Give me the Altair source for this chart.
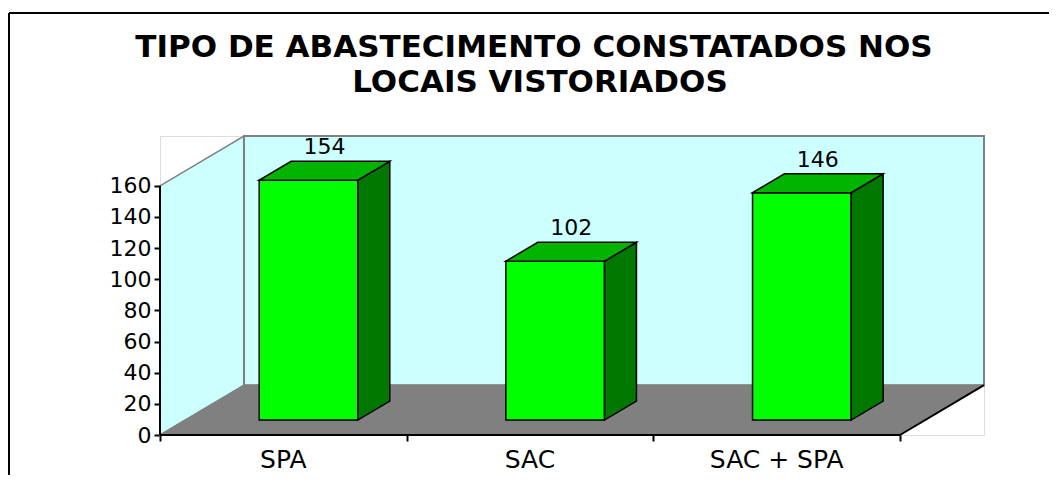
import altair as alt
import pandas as pd

# ---- data ----
categories = ["SPA", "SAC", "SAC + SPA"]
values = [154, 102, 146]
y_ticks = [0, 20, 40, 60, 80, 100, 120, 140, 160]
y_max = 160
title_lines = ["TIPO DE ABASTECIMENTO CONSTATADOS NOS", "LOCAIS VISTORIADOS"]

# ---- 3-D styling constants (in scale units) ----
DX = 0.3405          # depth of the box, in category units
DY = 32.0            # depth of the box, in value units
Z0, Z1 = 0.30, 0.68  # depth range occupied by the bars
BAR_L, BAR_W = 0.30, 0.40
n = len(categories)

FONT = "DejaVu Sans"

# ---- build geometry tables from the data ----
front_rows, side_rows, top_rows, label_rows = [], [], [], []
for i, (c, v) in enumerate(zip(categories, values)):
    x0 = i + BAR_L + Z0 * DX
    x1 = x0 + BAR_W
    b0, t0 = Z0 * DY, v + Z0 * DY
    b1, t1 = Z1 * DY, v + Z1 * DY
    ddx = (Z1 - Z0) * DX
    front_rows.append(dict(cat=c, x=x0, x2=x1, y=b0, y2=t0))
    side_rows += [dict(cat=c, x=x1, lo=b0, hi=t0),
                  dict(cat=c, x=x1 + ddx, lo=b1, hi=t1)]
    top_rows += [dict(cat=c, x=x0, lo=t0, hi=t0),
                 dict(cat=c, x=x0 + ddx, lo=t0, hi=t1),
                 dict(cat=c, x=x1, lo=t0, hi=t1),
                 dict(cat=c, x=x1 + ddx, lo=t1, hi=t1)]
    label_rows.append(dict(cat=c, v=v, x=i + BAR_L + BAR_W / 2 + (Z0 + Z1) / 2 * DX, y=t1))

front = pd.DataFrame(front_rows)
side = pd.DataFrame(side_rows)
top = pd.DataFrame(top_rows)
labels = pd.DataFrame(label_rows)
cat_df = pd.DataFrame(dict(cat=categories, x=[i + 0.5 for i in range(n)], y=[0] * n))

left_wall = pd.DataFrame(dict(g=["w", "w"], x=[0, DX], lo=[0, DY], hi=[y_max, y_max + DY]))
back_wall = pd.DataFrame(dict(x=[DX], x2=[n + DX], y=[DY], y2=[y_max + DY]))
floor = pd.DataFrame(dict(g=["f"] * 4, x=[0, DX, n, n + DX], lo=[0, 0, 0, DY], hi=[0, DY, DY, DY]))
edges = pd.DataFrame(dict(x=[0, 0, n], y=[0, 0, 0], x2=[n, 0, n + DX], y2=[0, y_max, DY]))

xs = alt.Scale(domain=[0, n + DX], nice=False, zero=False)
ys = alt.Scale(domain=[0, y_max + DY], nice=False, zero=False)

x_axis = alt.Axis(values=list(range(n + 1)), labels=False, ticks=True, tickSize=6, tickWidth=2,
                  tickColor="black", domain=False, grid=False, title=None)
y_axis = alt.Axis(values=y_ticks, labels=True, ticks=True, tickSize=6, tickWidth=2, tickColor="black",
                  domain=False, grid=False, title=None, labelFont=FONT, labelFontSize=22,
                  labelColor="black", labelPadding=3)


def X(f="x"):
    return alt.X(f"{f}:Q", scale=xs, axis=x_axis)


def Y(f="y"):
    return alt.Y(f"{f}:Q", scale=ys, axis=y_axis)


wall_l = alt.Chart(left_wall).mark_area(orient="vertical", color="#CCFFFF", fill="#CCFFFF",
                                         stroke="#808080", strokeWidth=1.5).encode(
    x=X(), y=Y("hi"), y2="lo:Q", detail="g:N")
wall_b = alt.Chart(back_wall).mark_rect(fill="#CCFFFF", stroke="#808080", strokeWidth=2).encode(
    x=X(), x2="x2:Q", y=Y(), y2="y2:Q")
floor_l = alt.Chart(floor).mark_area(orient="vertical", color="#808080", fill="#808080",
                                      stroke="#808080", strokeWidth=1).encode(
    x=X(), y=Y("hi"), y2="lo:Q", detail="g:N")

edge_l = alt.Chart(edges).mark_rule(color="black", strokeWidth=2).encode(
    x=X(), x2="x2:Q", y=Y(), y2="y2:Q")

bar_front = alt.Chart(front).mark_rect(fill="#00FF00", stroke="black", strokeWidth=1.5).encode(
    x=X(), x2="x2:Q", y=Y(), y2="y2:Q")
bar_side = alt.Chart(side).mark_area(orient="vertical", color="#007800", fill="#007800",
                                      stroke="black", strokeWidth=1.5).encode(
    x=X(), y=Y("hi"), y2="lo:Q", detail="cat:N")
bar_top = alt.Chart(top).mark_area(orient="vertical", color="#00B400", fill="#00B400",
                                    stroke="black", strokeWidth=1.5).encode(
    x=X(), y=Y("hi"), y2="lo:Q", detail="cat:N")

val_text = alt.Chart(labels).mark_text(font=FONT, fontSize=22, color="black", baseline="alphabetic", dy=-7).encode(
    x=X(), y=Y(), text="v:Q")
cat_text = alt.Chart(cat_df).mark_text(font=FONT, fontSize=25, color="black", baseline="alphabetic", dy=33).encode(
    x=X(), y=Y(), text="cat:N")

one = pd.DataFrame(dict(a=[0]))
border = alt.Chart(one).mark_rule(color="black", strokeWidth=2).encode(
    x=alt.value(-151), x2=alt.value(-151), y=alt.value(-123), y2=alt.value(400))
border_top = alt.Chart(one).mark_rule(color="black", strokeWidth=2).encode(
    x=alt.value(-151), x2=alt.value(920), y=alt.value(-123), y2=alt.value(-123))
title1 = alt.Chart(one).mark_text(font=FONT, fontSize=31, fontWeight="bold", color="black",
                                  baseline="alphabetic", align="center").encode(
    x=alt.value(374), y=alt.value(-79), text=alt.value(title_lines[0]))
title2 = alt.Chart(one).mark_text(font=FONT, fontSize=31, fontWeight="bold", color="black",
                                  baseline="alphabetic", align="center").encode(
    x=alt.value(380), y=alt.value(-44), text=alt.value(title_lines[1]))

chart = alt.layer(
    wall_l, wall_b, floor_l, edge_l, bar_front, bar_side, bar_top, val_text, cat_text,
    border, border_top, title1, title2
).properties(
    width=824, height=299,
    autosize=alt.AutoSizeParams(type="none"),
    padding={"left": 152, "top": 128, "right": 65, "bottom": 40},
).configure_view(stroke=None).configure(background="white")

chart.save("out.html", embed_options={"renderer": "svg", "actions": False})
